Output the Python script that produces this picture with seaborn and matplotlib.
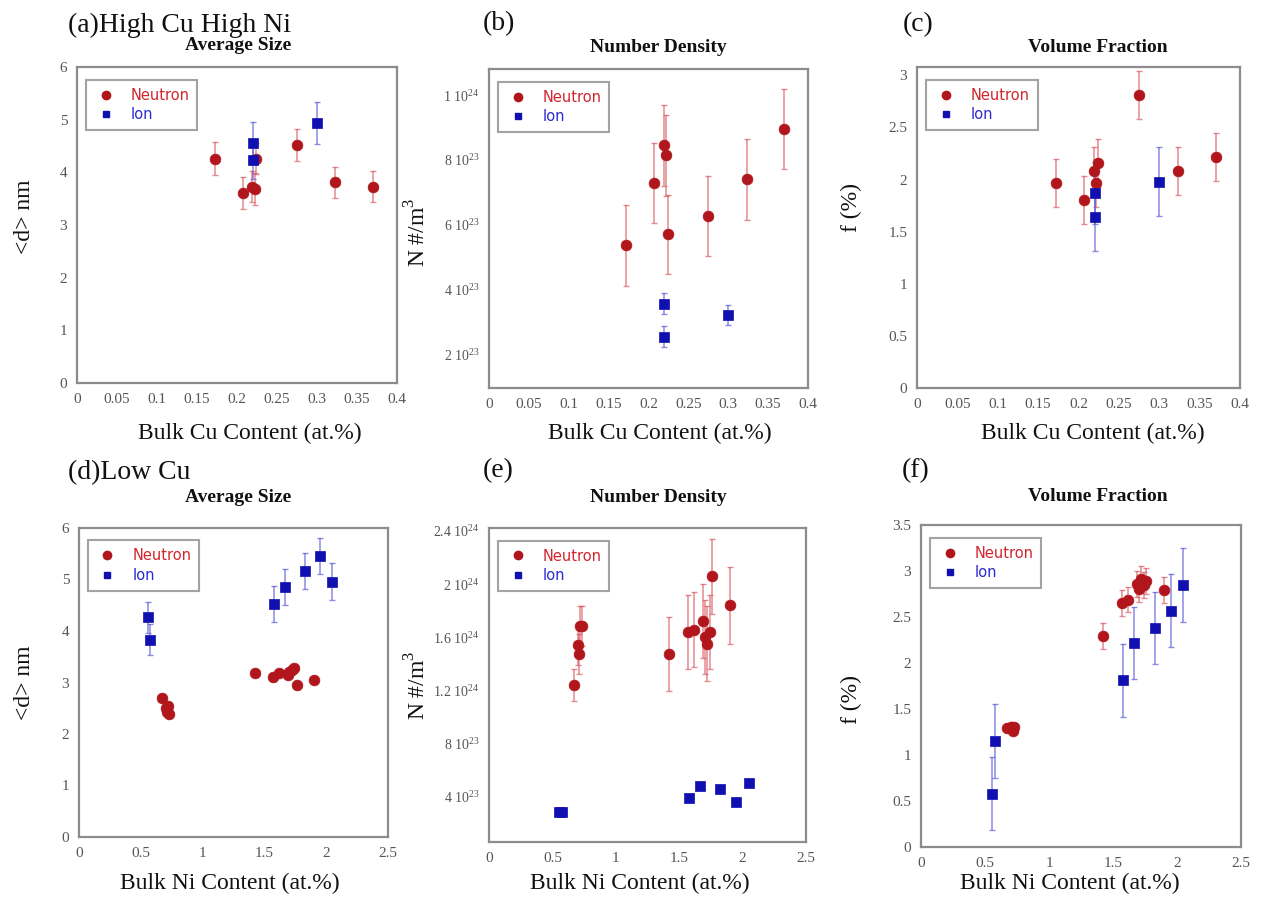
import numpy as np
import pandas as pd
import matplotlib
matplotlib.use("Agg")
import matplotlib.pyplot as plt
from matplotlib.ticker import FuncFormatter
from matplotlib.lines import Line2D
from matplotlib import font_manager as fm
import seaborn as sns

# ---------------- data ----------------
# Top row: bulk Cu content (at.%)
cu_neutron = [0.172, 0.207, 0.219, 0.222, 0.224, 0.275, 0.323, 0.370]
cu_ion = [0.22, 0.22, 0.30]

size_cu_neutron = [4.26, 3.61, 3.73, 3.68, 4.26, 4.52, 3.81, 3.73]
size_cu_neutron_err = [0.32, 0.30, 0.30, 0.30, 0.30, 0.30, 0.30, 0.30]
size_cu_ion = [4.55, 4.23, 4.93]
size_cu_ion_err = [0.40, 0.35, 0.40]

dens_cu_neutron = [5.36e23, 7.28e23, 8.44e23, 8.13e23, 5.69e23, 6.26e23, 7.39e23, 8.95e23]
dens_cu_neutron_err = [1.25e23, 1.23e23, 1.25e23, 1.25e23, 1.23e23, 1.24e23, 1.26e23, 1.23e23]
dens_cu_ion = [3.55e23, 2.54e23, 3.21e23]
dens_cu_ion_err = [0.33e23, 0.33e23, 0.30e23]

vf_cu_neutron = [1.97, 1.80, 2.08, 1.97, 2.16, 2.81, 2.08, 2.22]
vf_cu_neutron_err = [0.23, 0.23, 0.23, 0.23, 0.23, 0.23, 0.23, 0.23]
vf_cu_ion = [1.87, 1.64, 1.98]
vf_cu_ion_err = [0.30, 0.33, 0.33]

# Bottom row: bulk Ni content (at.%)
ni_neutron = [0.67, 0.70, 0.71, 0.72, 0.73, 1.42, 1.57, 1.62, 1.69, 1.70, 1.72, 1.74, 1.76, 1.90]
ni_ion = [0.555, 0.575, 1.575, 1.665, 1.825, 1.95, 2.05]

size_ni_neutron = [2.69, 2.50, 2.43, 2.54, 2.38, 3.19, 3.11, 3.19, 3.15, 3.20, 3.24, 3.29, 2.95, 3.05]
size_ni_neutron_err = [0.05] * 14
size_ni_ion = [4.27, 3.83, 4.52, 4.85, 5.17, 5.45, 4.96]
size_ni_ion_err = [0.30, 0.30, 0.35, 0.35, 0.35, 0.35, 0.36]

dens_ni_neutron = [1.24e24, 1.54e24, 1.47e24, 1.685e24, 1.68e24, 1.47e24, 1.635e24,
                   1.655e24, 1.72e24, 1.60e24, 1.55e24, 1.635e24, 2.056e24, 1.838e24]
dens_ni_neutron_err = [0.12e24, 0.15e24, 0.15e24, 0.15e24, 0.15e24, 0.28e24, 0.28e24,
                       0.28e24, 0.28e24, 0.28e24, 0.28e24, 0.28e24, 0.28e24, 0.29e24]
dens_ni_ion = [0.28e24, 0.28e24, 0.387e24, 0.475e24, 0.458e24, 0.357e24, 0.50e24]
dens_ni_ion_err = [0.03e24] * 7

vf_ni_neutron = [1.29, 1.30, 1.30, 1.26, 1.30, 2.29, 2.65, 2.69, 2.86, 2.80, 2.91, 2.85, 2.89, 2.79]
vf_ni_neutron_err = [0.03, 0.03, 0.03, 0.03, 0.03, 0.14, 0.14, 0.14, 0.14, 0.14, 0.14, 0.14, 0.14, 0.14]
vf_ni_ion = [0.58, 1.15, 1.81, 2.215, 2.38, 2.57, 2.85]
vf_ni_ion_err = [0.40, 0.40, 0.40, 0.39, 0.39, 0.40, 0.40]

x_ticks_cu = [0, 0.05, 0.1, 0.15, 0.2, 0.25, 0.3, 0.35, 0.4]
x_ticks_ni = [0, 0.5, 1, 1.5, 2, 2.5]

# ---------------- style ----------------
sns.set_theme(style="white")
plt.rcParams['font.family'] = ['Liberation Serif', 'DejaVu Serif']
plt.rcParams['mathtext.fontset'] = 'custom'
plt.rcParams['mathtext.rm'] = 'Liberation Serif'

# bold serif font for titles (explicit file if available)
_bold_path = None
for f in fm.fontManager.ttflist:
    if f.name == 'Liberation Serif' and f.weight in (700, 'bold') and f.style == 'normal':
        _bold_path = f.fname
        break
if _bold_path:
    TITLE_FP = fm.FontProperties(fname=_bold_path, size=14)
else:
    TITLE_FP = fm.FontProperties(family=['DejaVu Serif'], weight='bold', size=13)

W, H = 1263, 900
fig = plt.figure(figsize=(W / 100, H / 100), dpi=100)

RED = "#b0161c"
BLUE = "#1010b0"
RED_E = (0.85, 0.35, 0.38, 0.7)
BLUE_E = (0.35, 0.35, 0.85, 0.7)
SPINE = "#8c8c8c"
TICK = "#555555"


def rect(l, r, t, b):
    return [l / W, 1 - b / H, (r - l) / W, (b - t) / H]


def fx(x):
    return x / W


def fy(y):
    return 1 - y / H


def sci_fmt(v, pos):
    if v <= 0:
        return ""
    e = int(np.floor(np.log10(v) + 1e-9))
    m = v / 10 ** e
    ms = f"{m:.1f}".rstrip("0").rstrip(".")
    return f"{ms} 10$^{{{e}}}$"


def g_fmt(v, pos):
    return f"{v:g}"


def panel(box, xn, yn, en, xi, yi, ei, xlim, ylim, xticks, yticks, sci=False):
    ax = fig.add_axes(box)
    dfn = pd.DataFrame({"x": xn, "y": yn, "e": en})
    dfi = pd.DataFrame({"x": xi, "y": yi, "e": ei})
    ax.errorbar(dfn["x"], dfn["y"], yerr=dfn["e"], fmt="none", ecolor=RED_E,
                elinewidth=1.1, capsize=2, capthick=1, zorder=2)
    ax.errorbar(dfi["x"], dfi["y"], yerr=dfi["e"], fmt="none", ecolor=BLUE_E,
                elinewidth=1.1, capsize=2, capthick=1, zorder=2)
    sns.scatterplot(data=dfn, x="x", y="y", ax=ax, color=RED, marker="o", s=60,
                    edgecolor=RED, linewidth=0.5, zorder=3, legend=False)
    sns.scatterplot(data=dfi, x="x", y="y", ax=ax, color=BLUE, marker="s", s=50,
                    edgecolor=BLUE, linewidth=0.5, zorder=4, legend=False)
    ax.set_xlim(*xlim)
    ax.set_ylim(*ylim)
    ax.set_xticks(xticks)
    ax.set_yticks(yticks)
    ax.xaxis.set_major_formatter(FuncFormatter(g_fmt))
    ax.yaxis.set_major_formatter(FuncFormatter(sci_fmt if sci else g_fmt))
    ax.tick_params(axis="x", length=0, labelsize=11, colors=TICK, pad=7)
    ax.tick_params(axis="y", length=0, labelsize=10 if sci else 11, colors=TICK, pad=7)
    ax.set_xlabel("")
    ax.set_ylabel("")
    for s in ax.spines.values():
        s.set_color(SPINE)
        s.set_linewidth(1.6)
    handles = [Line2D([], [], ls="none", marker="o", color=RED, markersize=6),
               Line2D([], [], ls="none", marker="s", color=BLUE, markersize=5)]
    leg = ax.legend(handles, ["Neutron", "Ion"], loc="upper left",
                    bbox_to_anchor=(0.028, 0.96), frameon=True, fancybox=False,
                    prop={"family": "DejaVu Sans", "size": 10.5}, handlelength=1.6,
                    handletextpad=0.9, borderpad=0.55, labelspacing=0.3,
                    borderaxespad=0.0)
    leg.get_frame().set_edgecolor(SPINE)
    leg.get_frame().set_linewidth(1.5)
    leg.get_texts()[0].set_color("#d0262c")
    leg.get_texts()[1].set_color("#2a2ad0")
    return ax


# top row
panel(rect(77, 397, 67, 383), cu_neutron, size_cu_neutron, size_cu_neutron_err,
      cu_ion, size_cu_ion, size_cu_ion_err, (0, 0.4), (0, 6), x_ticks_cu, [0, 1, 2, 3, 4, 5, 6])
panel(rect(489, 808, 69, 388), cu_neutron, dens_cu_neutron, dens_cu_neutron_err,
      cu_ion, dens_cu_ion, dens_cu_ion_err, (0, 0.4), (0.95e23, 1.08e24), x_ticks_cu,
      [2e23, 4e23, 6e23, 8e23, 1e24], sci=True)
panel(rect(917, 1240, 67, 388), cu_neutron, vf_cu_neutron, vf_cu_neutron_err,
      cu_ion, vf_cu_ion, vf_cu_ion_err, (0, 0.4), (0, 3.08), x_ticks_cu,
      [0, 0.5, 1, 1.5, 2, 2.5, 3])

# bottom row
panel(rect(79, 388, 528, 837), ni_neutron, size_ni_neutron, size_ni_neutron_err,
      ni_ion, size_ni_ion, size_ni_ion_err, (0, 2.5), (0, 6), x_ticks_ni, [0, 1, 2, 3, 4, 5, 6])
panel(rect(489, 806, 528, 842), ni_neutron, dens_ni_neutron, dens_ni_neutron_err,
      ni_ion, dens_ni_ion, dens_ni_ion_err, (0, 2.5), (0.56e23, 2.42e24), x_ticks_ni,
      [4e23, 8e23, 1.2e24, 1.6e24, 2e24, 2.4e24], sci=True)
panel(rect(921, 1241, 525, 847), ni_neutron, vf_ni_neutron, vf_ni_neutron_err,
      ni_ion, vf_ni_ion, vf_ni_ion_err, (0, 2.5), (0, 3.5), x_ticks_ni,
      [0, 0.5, 1, 1.5, 2, 2.5, 3, 3.5])

# panel labels
for txt, x, y in [("(a)High Cu High Ni", 68, 25), ("(b)", 483, 24), ("(c)", 903, 25),
                  ("(d)Low Cu", 68, 473), ("(e)", 483, 471), ("(f)", 902, 471)]:
    fig.text(fx(x), fy(y), txt, fontsize=20, ha="left", va="center", color="#111111")

# titles
for txt, x, y in [("Average Size", 238, 45), ("Number Density", 658, 47),
                  ("Volume Fraction", 1098, 47), ("Average Size", 238, 498),
                  ("Number Density", 658, 498), ("Volume Fraction", 1098, 497)]:
    fig.text(fx(x), fy(y), txt, fontproperties=TITLE_FP, ha="center", va="center",
             color="#111111")

# x labels
for txt, x, y in [("Bulk Cu Content (at.%)", 250, 433), ("Bulk Cu Content (at.%)", 660, 433),
                  ("Bulk Cu Content (at.%)", 1093, 433), ("Bulk Ni Content (at.%)", 230, 883),
                  ("Bulk Ni Content (at.%)", 640, 883), ("Bulk Ni Content (at.%)", 1070, 883)]:
    fig.text(fx(x), fy(y), txt, fontsize=17, ha="center", va="center", color="#111111")

# y labels
for txt, x, y in [("<d> nm", 25, 217), ("N #/m$^3$", 418, 232), ("f (%)", 851, 208),
                  ("<d> nm", 25, 683), ("N #/m$^3$", 418, 685), ("f (%)", 851, 700)]:
    fig.text(fx(x), fy(y), txt, fontsize=17, ha="center", va="center", rotation=90,
             color="#111111")

fig.savefig("out.png", dpi=100, facecolor="white")
